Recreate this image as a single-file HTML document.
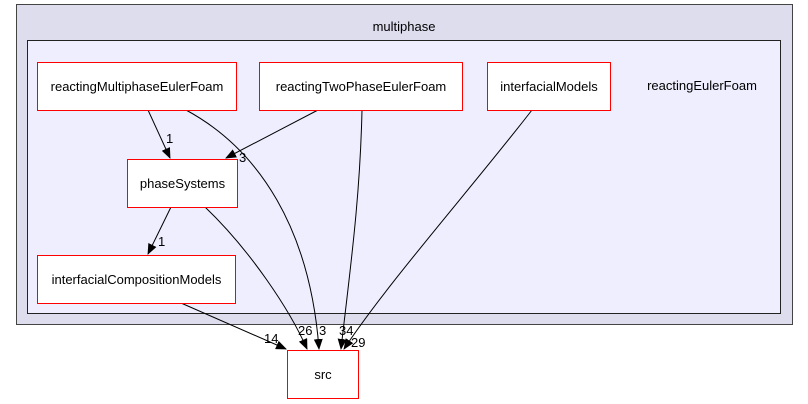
<!DOCTYPE html>
<html><head><style>
body{margin:0;background:#fff;font-family:'Liberation Sans',sans-serif;font-size:13px}
svg{display:block;position:absolute;left:0;top:0}
.n{position:absolute;box-sizing:border-box;background:#fff;border:1px solid #ff0000;display:flex;align-items:center;justify-content:center;white-space:nowrap}
</style></head><body>
<div style="position:relative;width:808px;height:404px">
<svg width="808" height="404" viewBox="0 0 808 404" xmlns="http://www.w3.org/2000/svg" font-family="'Liberation Sans',sans-serif" font-size="13">
<defs><marker id="a" markerWidth="11" markerHeight="9" refX="10" refY="4.5" orient="auto" markerUnits="userSpaceOnUse"><path d="M0,0 L11,4.5 L0,9 z" fill="#000"/></marker></defs>
<rect x="16.5" y="4.5" width="776" height="320" fill="#ddddee" stroke="#444"/>
<text x="404" y="31" text-anchor="middle">multiphase</text>
<rect x="27.5" y="40.5" width="753" height="273" fill="#eeeeff" stroke="#222"/>
<text x="702" y="90" text-anchor="middle">reactingEulerFoam</text>
<g fill="none" stroke="#000" marker-end="url(#a)">
<path d="M148,110 L170,158"/>
<path d="M186,110 C260,150 310,230 319,349"/>
<path d="M318,110 L226,158"/>
<path d="M362,110 C360,200 350,270 341,349"/>
<path d="M532,110 C470,190 390,280 344,349"/>
<path d="M205,207 C250,250 290,310 307,349"/>
<path d="M171,207 L148,254"/>
<path d="M181,303 L286,349"/>
</g>
<g font-size="13">
<text x="166" y="143">1</text>
<text x="239" y="162">3</text>
<text x="319" y="335">3</text>
<text x="339" y="335">34</text>
<text x="351" y="347">29</text>
<text x="298" y="335">26</text>
<text x="158" y="246">1</text>
<text x="264" y="343">14</text>
</g>
</svg>
<div class="n" style="left:37px;top:62px;width:200px;height:49px">reactingMultiphaseEulerFoam</div>
<div class="n" style="left:259px;top:62px;width:204px;height:49px">reactingTwoPhaseEulerFoam</div>
<div class="n" style="left:487px;top:62px;width:124px;height:49px">interfacialModels</div>
<div class="n" style="left:127px;top:159px;width:111px;height:49px">phaseSystems</div>
<div class="n" style="left:37px;top:255px;width:199px;height:49px">interfacialCompositionModels</div>
<div class="n" style="left:287px;top:350px;width:72px;height:49px">src</div>
</div>
</body></html>
